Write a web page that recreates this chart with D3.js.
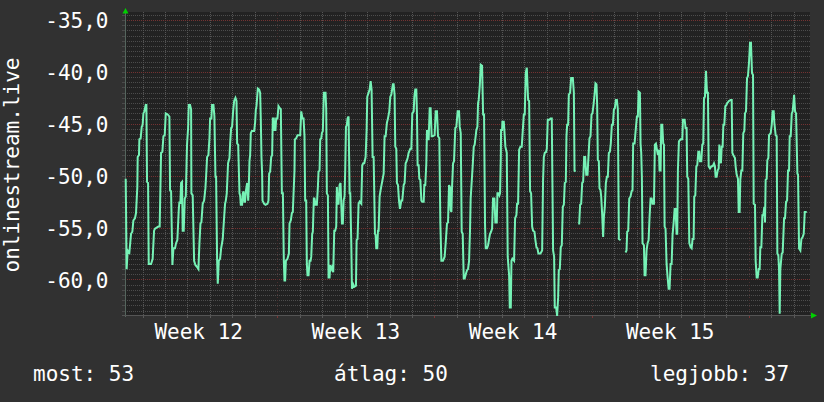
<!DOCTYPE html>
<html><head><meta charset="utf-8">
<script src="https://cdn.jsdelivr.net/npm/d3@7"></script>
<style>html,body{margin:0;padding:0;background:#313131;}svg{display:block;font-family:"DejaVu Sans Mono",monospace;}</style>
</head><body><svg id="c" width="824" height="402"></svg>
<script>
// [hours since Monday 00:00 of week 12, value]
const readings=[
[6.0,-50.3],[7.0,-59.0],[8.1,-57.2],[9.9,-57.4],[11.7,-55.6],[13.1,-55.4],[14.2,-54.3],[15.9,-54.1],[17.0,-53.6],[18.4,-51.1],
[18.8,-48.2],[20.2,-48.0],[20.6,-46.5],[22.0,-46.4],[23.1,-45.3],[24.1,-45.1],[24.9,-44.0],[25.9,-43.8],[27.4,-43.2],[28.1,-43.2],
[28.8,-50.6],[29.9,-50.7],[30.6,-58.5],[33.1,-58.5],[34.8,-58.0],[36.3,-55.3],[37.3,-55.1],[40.9,-54.9],[42.3,-54.9],[43.8,-47.8],
[45.2,-47.7],[46.3,-46.2],[47.7,-46.1],[48.8,-44.0],[50.9,-44.1],[52.7,-44.3],[53.4,-51.4],[54.5,-51.5],[55.9,-58.6],[57.0,-57.0],
[58.7,-57.0],[59.8,-56.5],[61.2,-56.2],[62.7,-53.3],[63.4,-52.5],[64.4,-52.7],[65.2,-50.7],[66.2,-50.6],[66.9,-55.3],[68.0,-55.3],
[69.1,-52.2],[70.2,-52.0],[71.2,-48.2],[71.6,-46.9],[72.7,-45.4],[73.4,-43.2],[74.8,-43.2],[75.9,-43.6],[76.2,-51.7],[77.6,-51.9],
[79.1,-58.2],[80.5,-58.6],[82.3,-58.8],[83.7,-59.0],[84.8,-56.5],[85.9,-54.6],[86.9,-54.5],[88.3,-52.7],[89.8,-52.4],[91.2,-51.2],
[91.9,-50.1],[93.0,-48.2],[94.4,-48.0],[95.5,-46.4],[96.2,-44.5],[97.6,-44.5],[98.3,-43.2],[99.8,-43.2],[100.8,-44.3],[101.9,-50.1],
[102.6,-50.1],[103.7,-58.2],[104.4,-60.4],[105.5,-58.2],[106.9,-58.0],[108.0,-57.0],[109.7,-56.1],[111.2,-54.0],[112.2,-52.7],[113.0,-52.4],
[114.0,-51.7],[115.4,-48.8],[116.9,-48.3],[117.6,-46.9],[118.7,-45.4],[119.7,-45.3],[120.8,-43.8],[121.9,-42.8],[123.3,-42.5],[124.4,-42.8],
[125.1,-46.9],[126.2,-47.0],[127.6,-51.7],[128.3,-51.9],[129.0,-52.8],[130.4,-52.8],[131.1,-51.7],[131.9,-51.5],[132.9,-52.5],[133.6,-52.5],
[134.4,-51.5],[135.8,-50.7],[136.9,-52.4],[137.6,-50.9],[138.3,-48.6],[139.0,-48.0],[139.7,-45.9],[140.8,-45.7],[143.3,-45.7],[144.3,-44.9],
[145.1,-43.6],[145.8,-43.3],[147.2,-41.6],[148.6,-41.7],
[149.7,-42.0],[150.4,-44.6],[151.1,-48.2],[151.8,-49.8],[152.2,-52.4],[154.0,-52.7],[155.4,-52.8],[157.5,-52.7],[158.6,-52.4],[159.3,-49.8],
[160.4,-49.6],[161.5,-48.2],[162.5,-48.0],[163.2,-44.5],[164.3,-44.5],[165.0,-45.6],[166.1,-45.6],[166.8,-44.5],[168.2,-44.5],[169.3,-43.3],
[170.7,-43.5],[171.8,-43.6],[172.9,-51.7],[174.0,-51.7],[175.0,-58.2],[175.7,-60.1],[176.4,-60.1],[177.2,-58.2],[178.9,-58.0],[180.4,-57.5],
[181.1,-54.6],[182.5,-54.3],[183.6,-53.6],[184.6,-53.5],[186.4,-49.5],[186.8,-46.5],[188.2,-46.4],[189.6,-46.1],[192.5,-46.1],[193.6,-43.8],
[195.0,-44.5],[196.1,-44.5],[197.1,-46.2],[197.8,-52.4],[198.9,-52.4],[199.6,-58.5],[200.3,-59.6],[201.4,-59.6],[202.5,-58.2],[203.6,-58.2],
[204.3,-57.8],[205.3,-55.6],[206.0,-55.4],[207.1,-52.2],[207.8,-52.2],[208.9,-52.8],[210.3,-52.8],[211.4,-51.1],[212.1,-49.6],[213.2,-49.5],
[213.9,-46.5],[215.0,-46.4],[215.7,-45.9],[216.7,-45.7],[217.8,-42.0],[219.6,-42.0],[220.3,-43.6],[221.0,-51.7],[222.1,-51.9],[222.8,-59.8],
[223.9,-59.8],[224.6,-58.6],[225.7,-59.0],[226.7,-58.8],[227.8,-59.3],[228.9,-55.3],[229.9,-55.3],[231.0,-54.9],[231.7,-51.1],[232.4,-52.7],
[233.5,-52.7],[234.6,-50.9],[235.6,-50.7],[236.4,-52.7],[237.1,-54.6],[238.1,-54.6],[238.9,-52.4],[239.9,-52.0],[240.6,-49.5],[241.4,-45.3],
[242.4,-45.1],[243.1,-44.5],[244.2,-44.3],[245.3,-51.7],[246.0,-51.7],[247.1,-56.5],[247.8,-60.9],[248.8,-60.4],[250.3,-60.7],[252.1,-60.6],
[252.8,-56.2],[253.8,-56.1],[254.9,-52.7],[256.0,-52.5],[257.8,-52.7],[258.8,-49.0],[259.9,-48.8],[261.0,-48.8],[262.4,-48.2],[263.5,-45.6],
[264.2,-42.4],[265.6,-42.0],[266.7,-41.7],[267.8,-40.9],[268.8,-41.7],[269.9,-48.2],[271.0,-48.2],[272.4,-55.6],[273.1,-55.7],[273.8,-57.0],
[274.9,-57.0],[275.6,-55.3],[276.3,-55.3],[277.4,-52.0],[278.4,-51.4],[281.7,-49.8],[282.7,-46.2],[283.8,-46.2],[285.2,-44.9],[286.3,-44.5],
[287.7,-43.8],[288.8,-42.4],[289.9,-42.2],[291.6,-41.2],[292.4,-41.2],[293.4,-42.2],[294.1,-47.2],[295.2,-47.4],[295.9,-50.7],[297.0,-50.9],
[298.1,-52.4],[299.1,-53.2],
[300.6,-52.4],[301.6,-52.4],[303.1,-50.9],[304.1,-50.7],[305.2,-48.8],[306.3,-48.6],[307.3,-48.3],[308.4,-47.8],[310.2,-47.4],[311.3,-47.4],
[312.3,-44.0],[313.8,-43.8],[314.5,-42.4],[315.5,-41.7],[316.6,-41.7],[317.3,-44.0],[318.0,-49.0],[319.1,-49.0],[319.8,-50.3],[320.9,-50.4],
[322.0,-52.4],[323.0,-52.5],[324.5,-52.5],[325.2,-50.9],[326.2,-50.9],[327.3,-48.8],[328.0,-45.6],[329.1,-46.5],[329.8,-46.5],[330.9,-43.5],
[331.9,-43.5],[333.0,-46.2],[334.1,-46.2],[336.2,-46.1],[337.3,-43.8],[338.7,-43.8],[339.8,-46.2],[341.2,-46.4],[342.3,-54.6],[343.4,-58.2],
[345.1,-58.2],[346.9,-57.8],[348.0,-56.5],[349.4,-54.6],[350.5,-54.5],[351.6,-50.9],[352.6,-51.1],[353.3,-53.3],[354.1,-53.5],[354.8,-51.1],
[355.9,-48.8],[356.9,-48.6],[358.3,-45.4],[359.4,-45.3],[360.8,-43.8],[362.3,-43.8],[363.0,-45.3],[364.1,-45.9],[365.1,-55.4],[366.2,-55.6],
[367.3,-59.9],[368.3,-59.9],[369.8,-59.4],[370.8,-59.1],[371.9,-59.0],[373.0,-58.2],[374.0,-55.3],[374.7,-52.2],[375.8,-50.6],[376.9,-49.0],
[378.0,-47.2],[379.0,-47.0],[380.8,-45.6],[381.9,-45.3],[382.6,-43.0],[383.3,-42.7],[384.4,-41.4],[385.5,-39.3],[386.9,-39.4],[388.0,-44.1],
[389.0,-44.1],[390.1,-54.9],[390.8,-57.0],[392.2,-57.0],[393.3,-56.7],[394.4,-56.1],[395.4,-55.6],[396.5,-55.4],[397.6,-55.1],[398.6,-52.2],
[400.1,-52.2],[401.1,-54.5],[402.6,-54.5],[403.3,-51.7],[404.4,-51.7],[405.4,-51.9],[406.1,-51.7],[406.9,-48.3],[407.2,-45.6],[408.3,-45.6],
[408.6,-44.8],[410.1,-44.8],[410.8,-45.7],[411.8,-47.2],[413.3,-47.8],[414.3,-57.8],[415.8,-59.6],[416.5,-62.7],[417.6,-62.7],[418.3,-58.2],
[419.3,-58.0],[421.1,-58.2],[422.2,-54.1],[423.6,-53.8],[424.3,-52.7],[425.4,-52.7],[426.5,-47.5],[427.9,-47.2],[429.3,-47.2],[431.5,-44.1],
[432.5,-44.1],[433.6,-40.1],[434.7,-39.6],[436.1,-42.7],[437.2,-42.8],[438.2,-51.5],[439.3,-51.7],[440.4,-54.9],[441.4,-55.3],[442.9,-55.4],
[443.9,-56.2],[445.0,-56.9],[446.1,-57.0],[447.1,-57.5],[449.3,-57.5],
[451.1,-57.2],[452.1,-50.4],[452.9,-48.2],[453.9,-47.8],[455.4,-47.7],[456.1,-47.4],[457.1,-44.6],[458.9,-44.6],[460.0,-44.5],[461.4,-44.5],
[462.1,-50.7],[462.8,-57.2],[463.9,-57.8],[464.6,-62.7],[466.1,-62.7],[467.1,-63.5],[468.2,-61.7],[468.9,-59.1],[470.0,-59.0],[471.0,-56.9],
[472.1,-56.7],[473.2,-53.0],[474.3,-52.8],[475.3,-50.7],[476.4,-50.6],[477.1,-46.2],[477.8,-45.1],[478.9,-45.1],[479.6,-42.2],[481.0,-42.0],
[482.1,-40.6],[483.9,-40.6],[485.0,-42.0],[485.7,-49.5],[486.7,-49.6],[488.0,null],
[489.6,-54.6],[490.7,-54.6],[491.7,-52.8],[492.8,-52.7],[493.9,-50.7],[494.9,-50.6],[496.0,-48.2],[497.1,-48.2],[498.2,-49.9],[499.6,-49.9],
[500.6,-48.2],[501.7,-46.4],[502.8,-46.2],[503.9,-44.1],[504.9,-44.0],[506.0,-43.2],[507.1,-42.2],[508.1,-41.1],[509.2,-41.2],[509.9,-43.2],
[510.6,-48.5],[511.7,-48.6],[512.4,-51.2],[513.5,-51.4],[514.2,-52.0],[515.3,-53.8],[516.3,-55.9],[517.1,-54.0],[518.1,-53.0],[519.2,-50.7],
[520.3,-50.1],[521.3,-50.1],[522.4,-47.8],[523.5,-47.7],[524.5,-46.9],[525.6,-45.1],[526.7,-45.1],[527.8,-43.6],[528.8,-43.5],[529.9,-42.7],
[531.0,-42.7],[532.0,-43.6],[533.1,-56.1],[534.9,-56.2],[537.5,null],
[540.2,-57.4],[541.3,-57.2],[542.0,-55.4],[543.1,-55.3],[544.2,-52.2],[545.6,-52.0],[546.7,-51.5],[547.7,-51.4],[548.4,-46.9],[549.9,-46.9],
[551.0,-45.7],[552.4,-44.3],[553.4,-44.3],[554.2,-41.9],[555.6,-42.0],[556.3,-46.9],[557.0,-47.8],[557.7,-50.1],[558.4,-56.5],[559.9,-56.7],
[560.6,-59.6],[561.6,-59.6],[562.7,-57.2],[563.8,-56.5],[564.9,-56.2],[565.9,-54.0],[567.0,-52.2],[568.1,-52.2],[569.1,-52.7],[570.6,-52.7],
[571.6,-47.0],[572.7,-46.9],[573.8,-47.5],[574.8,-48.0],[575.9,-47.5],[576.6,-49.5],[577.7,-49.5],[578.4,-45.1],[579.5,-45.1],[580.5,-46.9],
[581.3,-47.0],[582.0,-54.9],[583.0,-55.1],[584.1,-58.5],[585.2,-59.8],[586.3,-60.9],[587.3,-60.9],[588.4,-58.5],[589.5,-58.5],[590.5,-55.7],
[591.6,-54.6],[592.7,-53.2],[593.7,-53.2],[594.8,-55.6],[595.5,-55.6],[596.2,-49.5],[597.3,-46.7],[599.1,-46.5],
[600.9,-46.5],[601.6,-44.6],[603.4,-44.6],[604.4,-45.4],[605.5,-45.4],[606.2,-50.1],[607.3,-50.3],[608.4,-56.5],[609.8,-56.9],[610.9,-57.0],
[611.9,-56.1],[613.0,-56.1],[613.7,-52.0],[614.8,-51.9],[615.9,-49.1],[616.9,-49.0],[618.0,-47.7],[619.1,-47.7],[619.8,-48.6],[621.2,-48.6],
[622.3,-47.0],[623.3,-46.9],[624.1,-42.5],[625.1,-42.4],[626.2,-39.9],[627.3,-42.0],[628.3,-42.0],[629.1,-49.1],[630.5,-49.3],[631.9,-49.1],
[633.3,-49.1],[634.8,-48.8],[635.8,-49.1],[636.5,-50.1],[637.6,-50.1],[638.7,-49.5],[639.8,-49.3],[640.5,-47.0],[641.2,-48.5],[642.2,-48.8],
[643.0,-47.2],[644.0,-47.2],[644.8,-45.1],[645.8,-45.1],[646.9,-43.3],[648.0,-43.2],[649.0,-43.0],[650.8,-42.8],[652.6,-42.7],[653.7,-42.7],
[654.4,-47.8],[655.4,-48.0],[657.2,-48.3],[657.9,-49.1],[659.0,-49.9],[660.4,-50.3],[661.2,-53.5],[662.2,-53.5],[662.9,-50.4],[664.0,-49.5],
[665.1,-49.5],[666.1,-45.9],[667.2,-45.7],[667.9,-44.0],[669.0,-43.8],[670.1,-40.6],[671.1,-40.4],[672.2,-39.1],[673.3,-37.2],[674.3,-37.2],
[675.4,-40.1],[676.5,-40.3],[677.2,-52.7],[678.6,-52.8],[679.3,-58.2],[680.4,-59.8],[681.5,-59.8],[682.6,-59.0],[683.6,-59.0],[684.3,-56.9],
[685.4,-56.9],[686.5,-53.8],[687.5,-53.8],[688.6,-53.0],[689.3,-54.5],[690.0,-50.4],[691.1,-50.3],[691.8,-48.5],[692.9,-48.3],[693.6,-46.1],
[695.4,-45.9],[696.5,-45.1],[697.5,-43.8],[698.6,-43.8],[699.3,-44.9],[700.7,-46.1],[701.8,-46.2],[702.5,-57.5],[703.6,-57.7],[704.3,-59.0],
[705.0,-63.3],[705.7,-59.0],[707.2,-57.5],[708.2,-57.4],[709.7,-54.1],[710.7,-54.1],[711.8,-52.5],[712.9,-52.4],[713.9,-49.5],[715.0,-49.5],
[715.7,-46.2],[716.8,-46.2],[717.9,-44.0],[718.9,-43.8],[720.4,-42.2],[721.4,-43.8],[722.5,-44.0],[723.9,-49.8],[724.6,-49.9],[725.7,-57.0],
[727.1,-57.2],[728.2,-56.1],[729.6,-55.9],[730.7,-55.6],[731.8,-53.5],[733.9,-53.5]
];
const yTickValues=[-60,-55,-50,-45,-40,-35];
const weekNumbers=[12,13,14,15];
const axisTitle="onlinestream.live";
const legendLabels=["most: 53","átlag: 50","legjobb: 37"];
const startMonday=Date.UTC(2024,2,18); // Monday of ISO week 12
const hourSpan=[5.24,737.4];
const yDomain=[-63.42,-34.23];

const HOUR=3600e3, DAY=24*HOUR;
const toDate=h=>new Date(startMonday+h*HOUR);
const L=125,R=810,T=12,B=315;
const svg=d3.select("#c");
svg.append("rect").attr("width",824).attr("height",402).attr("fill","#313131");
svg.append("rect").attr("x",L).attr("y",T).attr("width",R-L).attr("height",B-T).attr("fill","#222222");

const x=d3.scaleUtc().domain(hourSpan.map(toDate)).range([L,R]);
const y=d3.scaleLinear().domain(yDomain).range([B,T]);
const px=d=>Math.round(x(d))+0.5, py=d=>Math.round(y(d))+0.5;

const g=svg.append("g");
const minorY=d3.range(-63,-34.4,0.5).filter(v=>Math.abs(v%5)>0.01);
const allDays=d3.utcDay.range(x.domain()[0],x.domain()[1]);
const days=allDays.filter(d=>d.getUTCDay()!==1);
const mondays=allDays.filter(d=>d.getUTCDay()===1);

g.selectAll("line.mh").data(minorY).join("line").attr("class","mh")
 .attr("x1",L).attr("x2",R).attr("y1",py).attr("y2",py)
 .attr("stroke","#4c4c4c").attr("stroke-dasharray","1,1");
g.selectAll("line.mv").data(days).join("line").attr("class","mv")
 .attr("y1",T).attr("y2",B).attr("x1",px).attr("x2",px)
 .attr("stroke","#555555").attr("stroke-dasharray","1,1");
g.selectAll("line.Mh").data(yTickValues).join("line").attr("class","Mh")
 .attr("x1",L).attr("x2",R).attr("y1",py).attr("y2",py)
 .attr("stroke","#743232").attr("stroke-dasharray","1,1");
g.selectAll("line.Mv").data(mondays).join("line").attr("class","Mv")
 .attr("y1",T).attr("y2",B).attr("x1",px).attr("x2",px)
 .attr("stroke","#4a3030").attr("stroke-dasharray","1,2");

// axis ticks
g.selectAll("line.tk").data(days).join("line").attr("class","tk")
 .attr("y1",B).attr("y2",B+3).attr("x1",px).attr("x2",px).attr("stroke","#5a5a5a");
g.selectAll("line.tkM").data(mondays).join("line").attr("class","tkM")
 .attr("y1",B).attr("y2",B+3).attr("x1",px).attr("x2",px).attr("stroke","#7a3535");
g.selectAll("line.tky").data(minorY.concat(yTickValues)).join("line").attr("class","tky")
 .attr("x1",L-3).attr("x2",L).attr("y1",py).attr("y2",py).attr("stroke","#4a4a4a");

// axis lines
svg.append("line").attr("x1",L+0.5).attr("x2",L+0.5).attr("y1",T-2).attr("y2",B+2).attr("stroke","#55655d");
svg.append("line").attr("x1",L-3).attr("x2",R+3).attr("y1",B+0.5).attr("y2",B+0.5).attr("stroke","#555555");
// arrows
svg.append("path").attr("d",`M${L-2.5},${T+1.5}L${L+3.5},${T+1.5}L${L+0.5},${T-4}Z`).attr("fill","#00d000");
svg.append("path").attr("d",`M${R+1},${B-2.5}L${R+1},${B+3.5}L${R+7},${B+0.5}Z`).attr("fill","#00d000");

// data line
const line=d3.line().defined(d=>d[1]!==null).x(d=>x(toDate(d[0]))).y(d=>y(d[1]));
svg.append("path").datum(readings).attr("d",line).attr("fill","none")
 .attr("stroke","#76f2b6").attr("stroke-width",2).attr("stroke-linejoin","miter");

// y tick labels
const loc=d3.formatLocale({decimal:",",thousands:".",grouping:[3],currency:["",""],minus:"-"});
const fmt=loc.format(".1f");
svg.selectAll("text.yl").data(yTickValues).join("text").attr("class","yl")
 .attr("x",108.5).attr("y",d=>y(d)).attr("dy","0.4em").attr("text-anchor","end")
 .attr("fill","#ffffff").attr("font-size",21).text(fmt);

// week labels, centred in each week
const weekStart=n=>new Date(startMonday+(n-weekNumbers[0])*7*DAY);
svg.selectAll("text.wl").data(weekNumbers).join("text").attr("class","wl")
 .attr("x",n=>x(new Date(+weekStart(n)+3.5*DAY))).attr("y",339).attr("text-anchor","middle")
 .attr("fill","#ffffff").attr("font-size",21)
 .text(n=>"Week "+d3.utcFormat("%V")(weekStart(n)));

// axis title
svg.append("text").attr("transform","translate(19,165) rotate(-90)").attr("text-anchor","middle")
 .attr("fill","#ffffff").attr("font-size",21).text(axisTitle);

// legend
const legendX=[33,334,650];
svg.selectAll("text.lg").data(legendLabels).join("text").attr("class","lg")
 .attr("x",(d,i)=>legendX[i]).attr("y",381).attr("fill","#ffffff").attr("font-size",21).text(d=>d);
</script></body></html>
